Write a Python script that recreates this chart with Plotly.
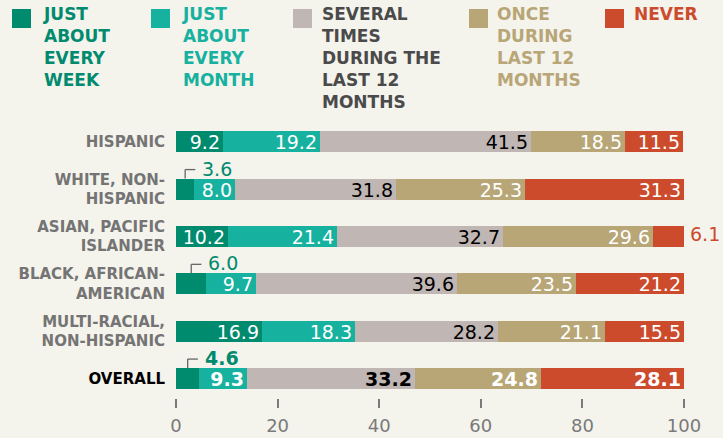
import plotly.graph_objects as go

groups = ["HISPANIC", "WHITE, NON-<br>HISPANIC", "ASIAN, PACIFIC<br>ISLANDER",
          "BLACK, AFRICAN-<br>AMERICAN", "MULTI-RACIAL,<br>NON-HISPANIC", "OVERALL"]
week = [9.2, 3.6, 10.2, 6.0, 16.9, 4.6]
month = [19.2, 8.0, 21.4, 9.7, 18.3, 9.3]
several = [41.5, 31.8, 32.7, 39.6, 28.2, 33.2]
once = [18.5, 25.3, 29.6, 23.5, 21.1, 24.8]
never = [11.5, 31.3, 6.1, 21.2, 15.5, 28.1]

series_names = ["JUST<br>ABOUT<br>EVERY<br>WEEK", "JUST<br>ABOUT<br>EVERY<br>MONTH",
                "SEVERAL<br>TIMES<br>DURING THE<br>LAST 12<br>MONTHS",
                "ONCE<br>DURING<br>LAST 12<br>MONTHS", "NEVER"]
colors = ["#008a6e", "#17b19f", "#c0b6b3", "#b8a677", "#cc4b2c"]
legend_colors = ["#008a6e", "#17b19f", "#4a4a4a", "#b8a677", "#cc4b2c"]
text_colors = ["white", "white", "black", "white", "white"]

BG = "#f4f3ec"
FONT = "DejaVu Sans"
BAR_W = 0.443
W, H = 723, 438
L, R, T, B = 176, 39, 118, 40

n = len(groups)
ypos = [n - 1 - i for i in range(n)]
overall = n - 1

fig = go.Figure()
all_series = [week, month, several, once, never]
for k, vals in enumerate(all_series):
    texts = []
    for i, v in enumerate(vals):
        if v < 7:
            texts.append("")
        elif i == overall:
            texts.append(f"<b>{v:.1f}</b>")
        else:
            texts.append(f"{v:.1f}")
    fig.add_trace(go.Bar(
        y=ypos, x=vals, orientation="h", width=BAR_W,
        marker=dict(color=colors[k], line=dict(width=0)),
        text=texts, textposition="inside", insidetextanchor="end",
        constraintext="none",
        textfont=dict(family=FONT, size=19, color=text_colors[k]),
        showlegend=False, hoverinfo="skip",
    ))

# callouts for small segments
for i, v in enumerate(week):
    if v < 7:
        yc = ypos[i]
        y0 = yc + BAR_W / 2
        y1 = y0 + 0.19
        fig.add_shape(type="line", x0=v / 2, x1=v / 2, y0=y0, y1=y1,
                      line=dict(color="#666", width=1.3))
        fig.add_shape(type="line", x0=v / 2, x1=v / 2 + 2, y0=y1, y1=y1,
                      line=dict(color="#666", width=1.3))
        txt = f"<b>{v:.1f}</b>" if i == overall else f"{v:.1f}"
        fig.add_annotation(x=v / 2 + 2, y=y1, text=txt, showarrow=False,
                           xanchor="left", yanchor="middle", xshift=5, yshift=1,
                           font=dict(family=FONT, size=19, color=colors[0]))
for i, v in enumerate(never):
    if v < 7:
        fig.add_annotation(x=100, y=ypos[i], text=f"{v:.1f}", showarrow=False,
                           xanchor="left", yanchor="middle", xshift=4, yshift=2,
                           font=dict(family=FONT, size=19, color=colors[4]))

# legend drawn by hand
pw, ph = W - L - R, H - T - B
def px_x(p):
    return (p - L) / pw
def px_y(p):
    return (H - B - p) / ph

sq_x = [12, 151, 293, 469, 605]
tx_x = [41, 180, 320, 495, 632]
for k in range(5):
    fig.add_shape(type="rect", xref="paper", yref="paper",
                  x0=px_x(sq_x[k]), x1=px_x(sq_x[k] + 19),
                  y0=px_y(9), y1=px_y(28),
                  fillcolor=colors[k], line=dict(width=0))
    fig.add_annotation(xref="paper", yref="paper", x=px_x(tx_x[k]), y=px_y(2),
                       xanchor="left", yanchor="top", align="left",
                       text=f"<b>{series_names[k]}</b>", showarrow=False,
                       font=dict(family=FONT, size=17, color=legend_colors[k]))

ticktext = [f"<span style='color:black'><b>{g}</b></span>" if i == overall else f"<b>{g}</b>"
            for i, g in enumerate(groups)]

fig.update_layout(
    width=W, height=H,
    margin=dict(l=L, r=R, t=T, b=B),
    paper_bgcolor=BG, plot_bgcolor=BG,
    barmode="stack", bargap=0,
    showlegend=False,
    xaxis=dict(range=[0, 100], tickvals=[0, 20, 40, 60, 80, 100],
               showgrid=False, zeroline=False, showline=False, automargin=False,
               ticks="outside", ticklen=9, tickwidth=1.5, tickcolor="#7a7a7a",
               ticklabelstandoff=2,
               tickfont=dict(family=FONT, size=18, color="#7a7a7a"),
               fixedrange=True),
    yaxis=dict(range=[-0.41, 5.5], tickvals=ypos, ticktext=ticktext,
               showgrid=False, zeroline=False, showline=False, ticks="",
               automargin=False, ticklabelstandoff=10,
               tickfont=dict(family=FONT, size=15, color="#747474"),
               fixedrange=True),
)

fig.write_html("out.html", config={"displayModeBar": False},
               post_script="document.body.style.margin='0';")
